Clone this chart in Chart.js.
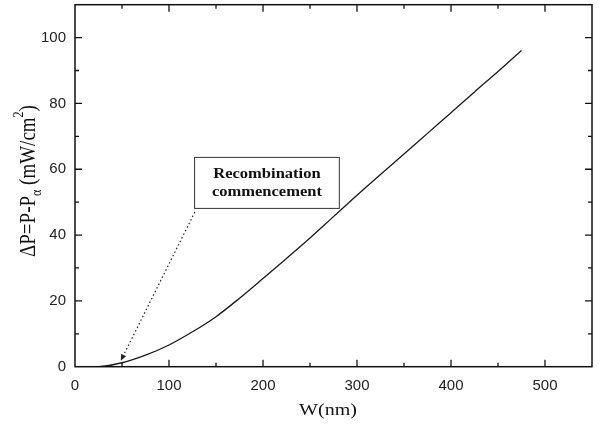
<!DOCTYPE html>
<html>
<head>
<meta charset="utf-8">
<script src="https://cdn.jsdelivr.net/npm/chart.js@4/dist/chart.umd.min.js"></script>
<style>
  html, body { margin: 0; padding: 0; background: #fff; }
  #wrap { width: 600px; height: 426px; }
</style>
</head>
<body>
<div id="wrap"><canvas id="myChart" width="600" height="426"></canvas></div>
<script>
// data
const widths = [0, 25, 50, 75, 100, 125, 150, 175, 200, 225, 250, 275, 300, 325, 350, 375, 400, 425, 450, 475];
const deltaP = [0, 0.05, 1.2, 3.5, 6.6, 10.6, 15.2, 20.8, 26.8, 32.9, 39.1, 45.6, 52.1, 58.4, 64.6, 70.9, 77.2, 83.5, 89.7, 96.1];
const xTicks = [0, 100, 200, 300, 400, 500];
const yTicks = [0, 20, 40, 60, 80, 100];

// annotation (data units)
const noteBox = { x0: 127.2, x1: 281.2, y0: 48.1, y1: 63.6 };
const noteLines = ["Recombination", "commencement"];
const arrowFrom = { x: 127.5, y: 47 };
const arrowTo = { x: 48.7, y: 1.8 };

const points = widths.map((w, i) => ({ x: w, y: deltaP[i] }));

const STRETCH = 1.18; // the source picture is widened a little

// frame + inside ticks on all sides
const framePlugin = {
  id: "frame",
  afterDatasetsDraw(chart) {
    const { ctx, chartArea: a, scales } = chart;
    const xs = scales.x, ys = scales.y;
    ctx.save();
    ctx.strokeStyle = "#111";
    ctx.lineWidth = 1.5;
    ctx.strokeRect(a.left, a.top, a.right - a.left, a.bottom - a.top);
    ctx.lineWidth = 1.3;
    ctx.beginPath();
    for (let v = 50; v < 550; v += 50) {
      const px = xs.getPixelForValue(v);
      const len = v % 100 === 0 ? 7 : 4;
      ctx.moveTo(px, a.bottom); ctx.lineTo(px, a.bottom - len);
      ctx.moveTo(px, a.top); ctx.lineTo(px, a.top + len);
    }
    for (let v = 10; v < 110; v += 10) {
      const py = ys.getPixelForValue(v);
      const len = v % 20 === 0 ? 7 : 4;
      ctx.moveTo(a.left, py); ctx.lineTo(a.left + len, py);
      ctx.moveTo(a.right, py); ctx.lineTo(a.right - len, py);
    }
    ctx.stroke();
    ctx.restore();
  }
};

// text box and dotted arrow
const notePlugin = {
  id: "note",
  afterDatasetsDraw(chart) {
    const { ctx, scales } = chart;
    const xs = scales.x, ys = scales.y;
    ctx.save();
    const l = xs.getPixelForValue(noteBox.x0), r = xs.getPixelForValue(noteBox.x1);
    const t = ys.getPixelForValue(noteBox.y1), b = ys.getPixelForValue(noteBox.y0);
    ctx.strokeStyle = "#333";
    ctx.lineWidth = 1;
    ctx.strokeRect(l, t, r - l, b - t);
    ctx.fillStyle = "#111";
    ctx.font = "bold 14px 'Liberation Serif', 'DejaVu Serif', serif";
    ctx.textAlign = "center";
    ctx.textBaseline = "middle";
    const cx = (l + r) / 2;
    ctx.save();
    ctx.translate(cx, 0);
    ctx.scale(STRETCH, 1);
    ctx.fillText(noteLines[0], 0, t + 17);
    ctx.fillText(noteLines[1], 0, t + 35);
    ctx.restore();

    const x1 = xs.getPixelForValue(arrowFrom.x), y1 = ys.getPixelForValue(arrowFrom.y);
    const x2 = xs.getPixelForValue(arrowTo.x), y2 = ys.getPixelForValue(arrowTo.y);
    const ang = Math.atan2(y2 - y1, x2 - x1);
    const hl = 7;
    ctx.setLineDash([1.5, 2.5]);
    ctx.strokeStyle = "#222";
    ctx.lineWidth = 1.2;
    ctx.beginPath();
    ctx.moveTo(x1, y1);
    ctx.lineTo(x2 - Math.cos(ang) * hl * 0.8, y2 - Math.sin(ang) * hl * 0.8);
    ctx.stroke();
    ctx.setLineDash([]);
    ctx.fillStyle = "#222";
    ctx.beginPath();
    ctx.moveTo(x2, y2);
    ctx.lineTo(x2 - hl * Math.cos(ang - 0.4), y2 - hl * Math.sin(ang - 0.4));
    ctx.lineTo(x2 - hl * Math.cos(ang + 0.4), y2 - hl * Math.sin(ang + 0.4));
    ctx.closePath();
    ctx.fill();
    ctx.restore();
  }
};

// axis titles (y one has subscript / superscript)
const titlePlugin = {
  id: "titles",
  afterDraw(chart) {
    const { ctx } = chart;
    const font = s => s + "px 'Liberation Serif', 'DejaVu Serif', serif";

    ctx.save();
    ctx.fillStyle = "#111";
    ctx.textAlign = "center";
    ctx.textBaseline = "middle";
    ctx.font = font(17);
    ctx.translate(328, 411);
    ctx.scale(STRETCH, 1);
    ctx.fillText("W(nm)", 0, 0);
    ctx.restore();

    const parts = [
      { t: "\u0394P=P-P", size: 19, dy: 0 },
      { t: "\u03B1", size: 12, dy: 7 },
      { t: " (mW/cm", size: 19, dy: 0 },
      { t: "2", size: 12, dy: -8 },
      { t: ")", size: 19, dy: 0 }
    ];
    let total = 0;
    parts.forEach(p => { ctx.font = font(p.size); p.w = ctx.measureText(p.t).width; total += p.w; });
    ctx.save();
    ctx.translate(29, 181);
    ctx.rotate(-Math.PI / 2);
    ctx.scale(1, STRETCH);
    ctx.fillStyle = "#111";
    ctx.textBaseline = "middle";
    ctx.textAlign = "left";
    let x = -total / 2;
    parts.forEach(p => {
      ctx.font = font(p.size);
      ctx.fillText(p.t, x, p.dy);
      x += p.w;
    });
    ctx.restore();
  }
};

const config = {
  type: "line",
  data: {
    datasets: [{
      data: points,
      borderColor: "#1a1a1a",
      borderWidth: 1.3,
      pointRadius: 0,
      cubicInterpolationMode: "monotone",
      fill: false
    }]
  },
  options: {
    responsive: false,
    animation: false,
    layout: { padding: { top: 4.7, right: 8, left: 0, bottom: 0 } },
    plugins: {
      legend: { display: false },
      tooltip: { enabled: false }
    },
    scales: {
      x: {
        type: "linear",
        min: 0,
        max: 550,
        afterBuildTicks: s => { s.ticks = xTicks.map(v => ({ value: v })); },
        afterFit: s => { s.height = 59.3; s.paddingLeft = 0; s.paddingRight = 0; },
        grid: { display: false, drawTicks: false },
        border: { display: false },
        ticks: {
          padding: 10,
          color: "#222",
          font: { family: "'Liberation Sans', Arial, sans-serif", size: 15 }
        }
      },
      y: {
        type: "linear",
        min: 0,
        max: 110,
        afterBuildTicks: s => { s.ticks = yTicks.map(v => ({ value: v })); },
        afterFit: s => { s.width = 75; s.paddingTop = 0; s.paddingBottom = 0; },
        grid: { display: false, drawTicks: false },
        border: { display: false },
        ticks: {
          padding: 9,
          color: "#222",
          font: { family: "'Liberation Sans', Arial, sans-serif", size: 15 }
        }
      }
    }
  },
  plugins: [framePlugin, notePlugin, titlePlugin]
};

var myChart = new Chart(document.getElementById("myChart"), config);
</script>
</body>
</html>
